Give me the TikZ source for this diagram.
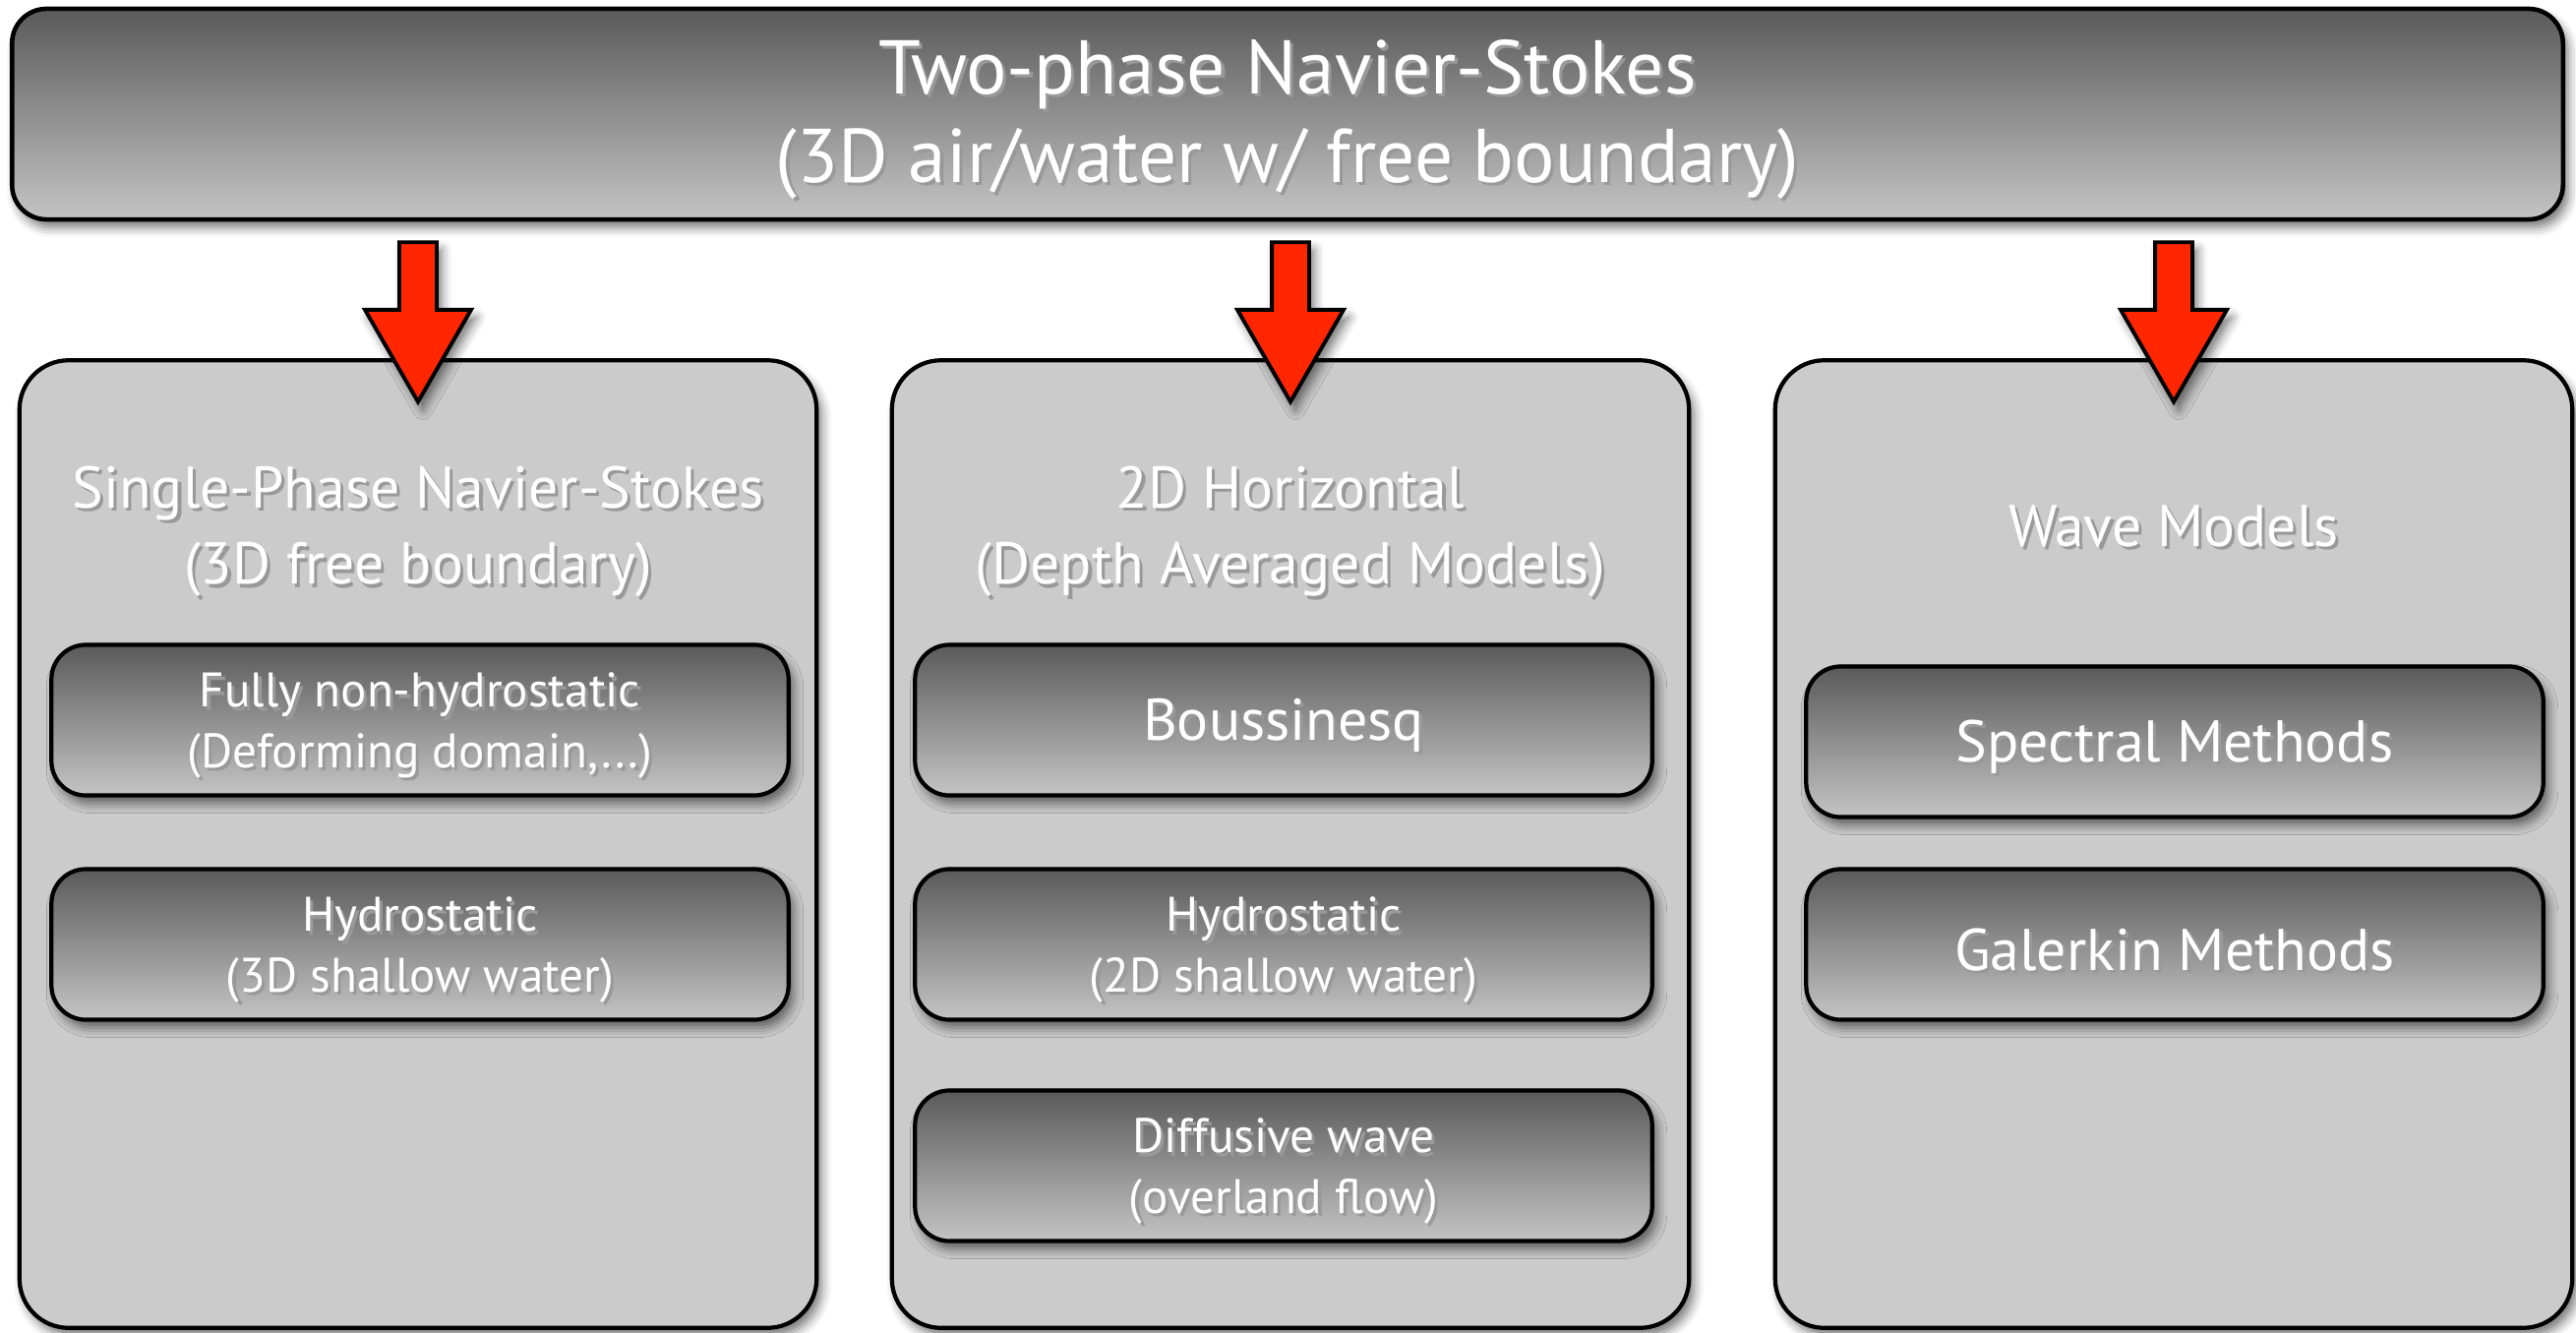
\documentclass[tikz,border=0pt]{standalone}
\usepackage{fontspec}
\setmainfont{PT Sans}
\usetikzlibrary{shapes.arrows, shadows.blur, calc}

\definecolor{boxdark}{HTML}{5A5A5A}
\definecolor{boxlight}{HTML}{C4C4C4}
\definecolor{panelgray}{HTML}{CBCBCB}
\definecolor{arrowred}{HTML}{FF2600}

% white label with a dark offset copy behind it, set a little low
\newlength{\txtdrop}
\setlength{\txtdrop}{2pt}
\newcommand{\shd}[1]{\raisebox{-\txtdrop}[\height][\depth]{\rlap{\kern0.9pt\raisebox{-0.9pt}{\textcolor{black!40}{#1}}}#1}}

\begin{document}
\begin{tikzpicture}[
    x=0.01cm, y=-0.01cm,
    softshadow/.style={blur shadow={shadow xshift=0.05cm, shadow yshift=-0.08cm, shadow blur radius=0.1cm, shadow opacity=55}},
    title box/.style={rectangle, rounded corners=0.35cm, draw, line width=1.3pt, top color=boxdark, bottom color=boxlight, softshadow, minimum width=25.92cm, minimum height=2.14cm, text=white, align=center, font=\fontsize{22}{25.6}\selectfont},
    panel box/.style={rectangle, rounded corners=0.5cm, draw, line width=1.2pt, fill=panelgray, softshadow, minimum width=8.1cm, minimum height=9.83cm},
    panel title/.style={text=white, align=center, font=\fontsize{17}{22}\selectfont},
    model box/.style={rectangle, rounded corners=0.35cm, draw, line width=1.2pt, top color=boxdark, bottom color=boxlight, softshadow, minimum width=7.49cm, minimum height=1.53cm, text=white, align=center, font=\fontsize{14}{17.4}\selectfont},
    big label/.style={font=\fontsize{17}{20}\selectfont},
    down arrow/.style={single arrow, shape border rotate=270, draw, line width=1.1pt, fill=arrowred, softshadow, inner sep=0.17cm, minimum height=1.62cm, minimum width=1.04cm, single arrow head extend=0.35cm, single arrow tip angle=60}
]
    \useasboundingbox (0,0) rectangle (2619,1354);

    % Top level model
    \node[title box] (top) at (1309,116) {\shd{Two-phase Navier-Stokes}\\\shd{(3D air/water w/ free boundary)}};

    % Three families of reduced models
    \node[panel box] (p1) at (425,858) {};
    \node[panel box] (p2) at (1312,858) {};
    \node[panel box] (p3) at (2210,858) {};

    \node[panel title] (t1) at (425,535) {\shd{Single-Phase Navier-Stokes}\\\shd{(3D free boundary)}};
    \node[panel title] (t2) at (1312,535) {\shd{2D Horizontal}\\\shd{(Depth Averaged Models)}};
    \node[panel title] (t3) at (2210,529) {\shd{Wave Models}};

    % Arrows from the top box into each panel
    \foreach \p/\a in {p1/a1, p2/a2, p3/a3}
        \node[down arrow, anchor=tail] (\a) at ($(top.south -| \p.north)+(0,19)$) {};

    % Single-phase models
    \node[model box] (m11) at (427,732) {\shd{Fully non-hydrostatic}\\\shd{(Deforming domain,...)}};
    \node[model box] (m12) at (427,960) {\shd{Hydrostatic}\\\shd{(3D shallow water)}};

    % Depth averaged models
    \node[model box, big label] (m21) at (1305,732) {\shd{Boussinesq}};
    \node[model box] (m22) at (1305,960) {\shd{Hydrostatic}\\\shd{(2D shallow water)}};
    \node[model box] (m23) at (1305,1185) {\shd{Diffusive wave}\\\shd{(overland flow)}};

    % Wave models
    \node[model box, big label] (m31) at (2211,754) {\shd{Spectral Methods}};
    \node[model box, big label] (m32) at (2211,960) {\shd{Galerkin Methods}};
\end{tikzpicture}
\end{document}
